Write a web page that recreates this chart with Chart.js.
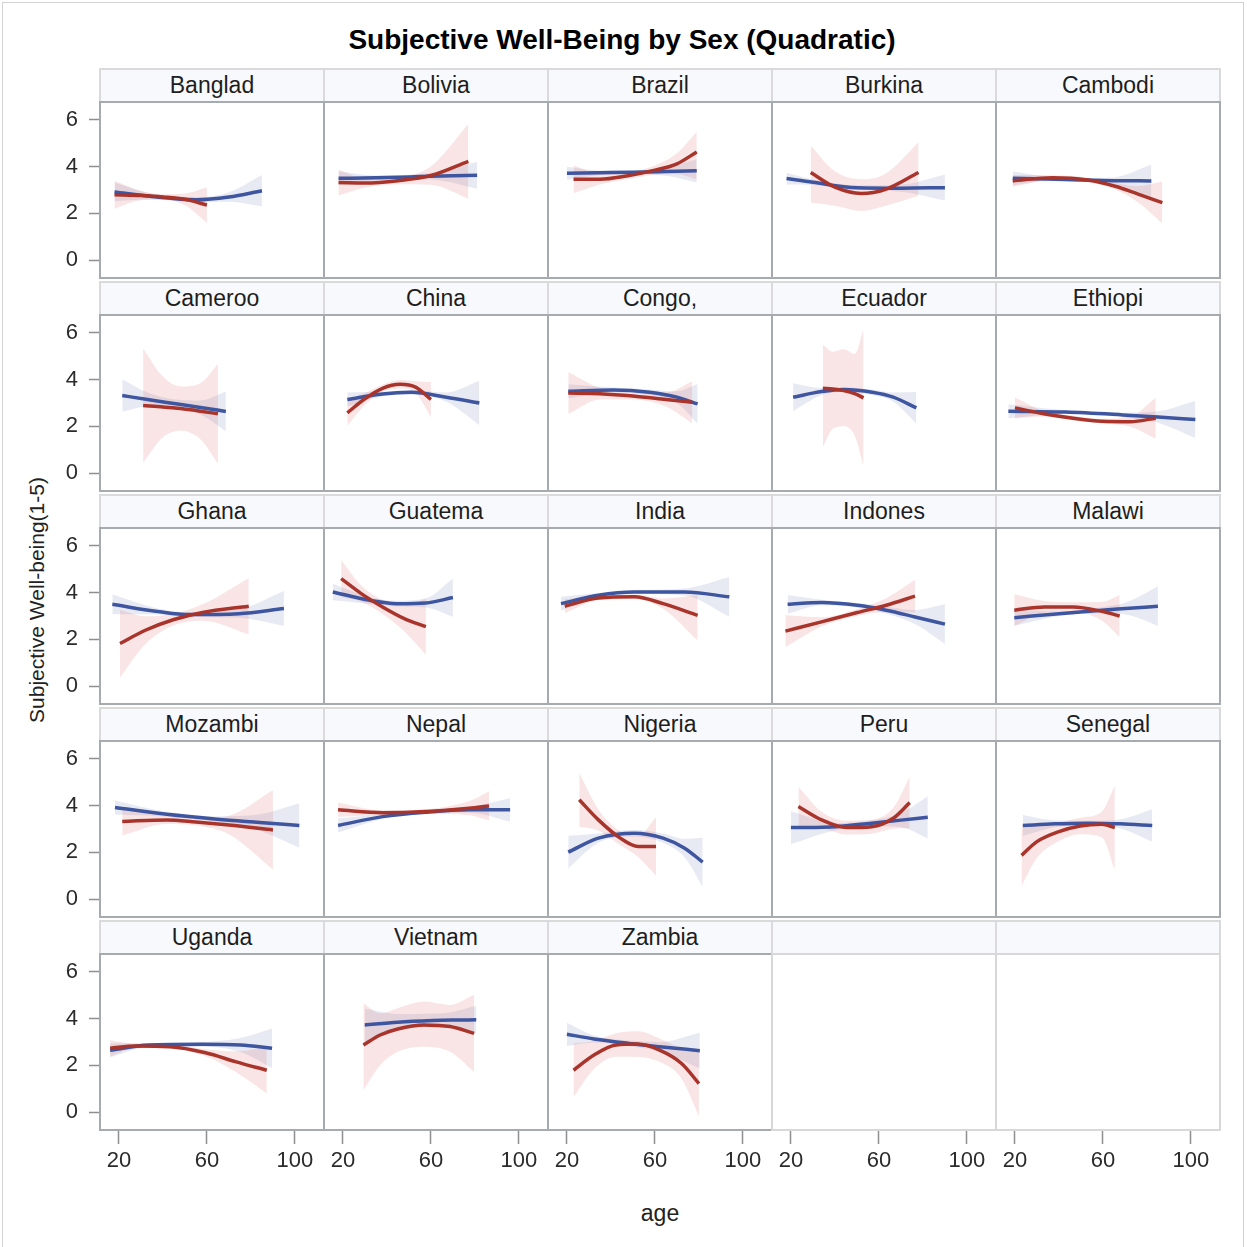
<!DOCTYPE html>
<html>
<head>
<meta charset="utf-8">
<script src="https://cdn.jsdelivr.net/npm/chart.js@4.4.0/dist/chart.umd.min.js"></script>
<style>
  body { margin: 0; background: #fff; font-family: "Liberation Sans", Arial, sans-serif; }
  #wrap { position: relative; width: 1247px; height: 1247px; overflow: hidden; background: #fff; }
  .frame { position: absolute; left: 2px; top: 2px; width: 1242px; height: 1260px; border: 1px solid #d2d2d2; box-sizing: border-box; }
  .title { position: absolute; left: 0; top: 23px; width: 1244px; text-align: center; font-weight: bold; font-size: 28px; line-height: 34px; color: #000; }
  .hdr { position: absolute; box-sizing: border-box; background: #f8f9fd; border: 2px solid #dadada; text-align: center; font-size: 23px; line-height: 30px; color: #1e1e1e; white-space: nowrap; overflow: hidden; }
  .box { position: absolute; box-sizing: border-box; border: 2px solid #a6abb0; z-index: 3; pointer-events: none; }
  .box.empty { border-color: #d8d8d8; }
  canvas { position: absolute; z-index: 2; }
  .ylab { position: absolute; left: -163px; top: 585px; width: 400px; height: 30px; line-height: 30px; text-align: center; font-size: 21px; color: #222; transform: rotate(-90deg); }
  .xlab { position: absolute; left: 0; top: 1198px; width: 1320px; text-align: center; font-size: 23px; line-height: 30px; color: #222; }
</style>
</head>
<body>
<div id="wrap">
  <div class="frame"></div>
  <div class="title">Subjective Well-Being by Sex (Quadratic)</div>
  <div class="ylab">Subjective Well-being(1-5)</div>
  <div class="xlab">age</div>
</div>
<script>
const countries = ["Banglad", "Bolivia", "Brazil", "Burkina", "Cambodi",
  "Cameroo", "China", "Congo,", "Ecuador", "Ethiopi",
  "Ghana", "Guatema", "India", "Indones", "Malawi",
  "Mozambi", "Nepal", "Nigeria", "Peru", "Senegal",
  "Uganda", "Vietnam", "Zambia"];
const xTicks = [20, 60, 100];
const yTicks = [0, 2, 4, 6];

// blue group: fitted curve and confidence band, one row per country
const maleAge = [
  [18, 35, 55, 70, 85], [18, 35, 50, 65, 81], [20, 35, 50, 65, 79], [18, 30, 50, 70, 90], [19, 35, 50, 65, 82],
  [21.5, 33, 45, 57, 68.6], [22, 38, 51, 67, 82], [20.6, 41, 57.6, 70, 79.4], [21, 34, 44, 57, 66.5, 77], [17, 43, 69, 85, 102],
  [17, 38.5, 51.6, 74.5, 95], [15.4, 31.6, 44.6, 57.7, 70], [17.3, 34.3, 50.6, 73.5, 93.8], [18.5, 33.9, 50.2, 63.3, 76.4, 90], [19.7, 40, 59.5, 72, 85],
  [18.2, 41.8, 64.7, 84, 102], [17.8, 38, 57.7, 77.3, 96], [20.6, 34.3, 50.6, 63.7, 73.5, 81.7], [20, 40.4, 56.7, 70, 82.2], [23.6, 38, 53, 68, 82.4],
  [16, 33.5, 57.4, 75.3, 89.6], [29.9, 44.9, 60.8, 70, 80.6], [20, 32.3, 48.2, 62.1, 80.4]
];
const maleFit = [
  [2.92, 2.72, 2.58, 2.70, 2.97], [3.50, 3.52, 3.56, 3.60, 3.63], [3.72, 3.74, 3.76, 3.79, 3.82], [3.49, 3.33, 3.10, 3.08, 3.10], [3.50, 3.47, 3.43, 3.40, 3.39],
  [3.32, 3.15, 2.98, 2.81, 2.64], [3.15, 3.39, 3.46, 3.25, 3.00], [3.50, 3.56, 3.46, 3.25, 2.96], [3.25, 3.49, 3.58, 3.46, 3.25, 2.79], [2.65, 2.61, 2.49, 2.40, 2.29],
  [3.50, 3.18, 3.06, 3.10, 3.32], [4.03, 3.68, 3.53, 3.56, 3.79], [3.53, 3.89, 4.03, 4.03, 3.82], [3.50, 3.58, 3.46, 3.25, 2.96, 2.65], [2.93, 3.10, 3.25, 3.33, 3.42],
  [3.92, 3.63, 3.42, 3.28, 3.15], [3.15, 3.53, 3.72, 3.82, 3.82], [2.01, 2.61, 2.82, 2.61, 2.18, 1.58], [3.06, 3.10, 3.25, 3.38, 3.50], [3.15, 3.22, 3.25, 3.22, 3.15],
  [2.65, 2.87, 2.90, 2.87, 2.73], [3.73, 3.85, 3.92, 3.94, 3.95], [3.33, 3.13, 2.94, 2.80, 2.63]
];
const maleLo = [
  [2.52, 2.60, 2.48, 2.50, 2.30], [3.20, 3.42, 3.47, 3.40, 3.05], [3.44, 3.64, 3.68, 3.61, 3.32], [3.24, 3.21, 3.00, 2.93, 2.55], [3.20, 3.37, 3.35, 3.26, 2.69],
  [2.62, 2.85, 2.80, 2.51, 1.79], [2.85, 3.29, 3.36, 3.05, 2.05], [3.20, 3.46, 3.34, 3.00, 2.11], [2.65, 3.34, 3.48, 3.34, 3.05, 2.11], [2.35, 2.53, 2.39, 2.15, 1.49],
  [3.07, 3.06, 2.96, 2.92, 2.57], [3.68, 3.53, 3.41, 3.36, 2.97], [3.23, 3.79, 3.95, 3.88, 2.97], [3.10, 3.46, 3.36, 3.10, 2.66, 1.80], [2.58, 3.00, 3.13, 3.03, 2.57],
  [3.62, 3.53, 3.30, 2.93, 2.20], [2.85, 3.43, 3.64, 3.70, 3.32], [1.31, 2.41, 2.67, 2.41, 1.78, 0.53], [2.36, 2.95, 3.13, 3.08, 2.60], [2.70, 3.07, 3.15, 3.02, 2.45],
  [2.35, 2.79, 2.80, 2.57, 1.88], [3.03, 3.50, 3.62, 3.59, 3.35], [2.83, 2.98, 2.82, 2.60, 1.86]
];
const maleHi = [
  [3.32, 2.84, 2.68, 2.90, 3.64], [3.80, 3.62, 3.65, 3.80, 4.21], [4.00, 3.84, 3.84, 3.97, 4.32], [3.74, 3.45, 3.20, 3.23, 3.65], [3.80, 3.57, 3.51, 3.54, 4.09],
  [4.02, 3.45, 3.16, 3.11, 3.49], [3.45, 3.49, 3.56, 3.45, 3.95], [3.80, 3.66, 3.58, 3.50, 3.81], [3.85, 3.64, 3.68, 3.58, 3.45, 3.47], [2.95, 2.69, 2.59, 2.65, 3.09],
  [3.93, 3.30, 3.16, 3.28, 4.07], [4.38, 3.83, 3.65, 3.76, 4.61], [3.83, 3.99, 4.11, 4.18, 4.67], [3.90, 3.70, 3.56, 3.40, 3.26, 3.50], [3.28, 3.20, 3.37, 3.63, 4.27],
  [4.22, 3.73, 3.54, 3.63, 4.10], [3.45, 3.63, 3.80, 3.94, 4.32], [2.71, 2.81, 2.97, 2.81, 2.58, 2.63], [3.76, 3.25, 3.37, 3.68, 4.40], [3.60, 3.37, 3.35, 3.42, 3.85],
  [2.95, 2.95, 3.00, 3.17, 3.58], [4.43, 4.20, 4.22, 4.29, 4.55], [3.83, 3.28, 3.06, 3.00, 3.40]
];

// red group
const femaleAge = [
  [18, 30, 40, 50, 60], [18, 30, 45, 60, 77], [23, 35, 47, 60, 70, 79], [29, 40, 52, 63, 78], [19, 37, 53, 66, 76, 87],
  [31, 40, 48, 57, 65], [22, 30, 38, 46, 53, 60], [20.6, 35, 50, 65, 77], [34.5, 39, 44, 49, 53], [20, 33, 46.5, 59.5, 72.5, 84],
  [20.5, 32, 45, 58, 79], [19.2, 28.3, 38, 47.9, 57.7], [19, 34.3, 50.6, 63.7, 79.4], [17.5, 33.9, 50.2, 63.3, 76.4], [19.7, 33.4, 46.5, 59.5, 67.6],
  [21.5, 41.8, 55, 70, 90], [17.8, 38, 57.7, 77.3, 86.4], [25.6, 34.3, 44.2, 52.3, 60.5], [23.4, 33.9, 45.3, 56.7, 66.5, 74], [23, 30, 40, 49.7, 59.5, 65.4],
  [16, 27.6, 43.5, 59.4, 73.3, 87.2], [29.3, 36.9, 44.9, 56.8, 68.7, 79.6], [23, 32.3, 42.3, 52.2, 62.1, 72.1, 80]
];
const femaleFit = [
  [2.80, 2.76, 2.70, 2.60, 2.36], [3.32, 3.30, 3.40, 3.62, 4.23], [3.46, 3.46, 3.60, 3.85, 4.12, 4.63], [3.75, 3.12, 2.85, 3.03, 3.75], [3.39, 3.53, 3.43, 3.15, 2.82, 2.46],
  [2.89, 2.83, 2.76, 2.65, 2.54], [2.58, 3.18, 3.63, 3.80, 3.68, 3.15], [3.43, 3.40, 3.30, 3.15, 3.03], [3.63, 3.60, 3.53, 3.40, 3.22], [2.79, 2.54, 2.35, 2.22, 2.20, 2.35],
  [1.82, 2.39, 2.85, 3.15, 3.42], [4.60, 3.96, 3.39, 2.89, 2.54], [3.42, 3.77, 3.82, 3.53, 3.03], [2.35, 2.75, 3.15, 3.46, 3.85], [3.25, 3.39, 3.39, 3.20, 3.00],
  [3.32, 3.39, 3.30, 3.17, 2.96], [3.82, 3.70, 3.75, 3.89, 3.99], [4.25, 3.39, 2.61, 2.25, 2.25], [3.96, 3.39, 3.06, 3.10, 3.46, 4.13], [1.87, 2.46, 2.89, 3.13, 3.20, 3.06],
  [2.73, 2.83, 2.80, 2.54, 2.15, 1.79], [2.87, 3.30, 3.56, 3.73, 3.66, 3.37], [1.79, 2.44, 2.87, 2.91, 2.65, 2.08, 1.22]
];
const femaleLo = [
  [2.20, 2.56, 2.58, 2.35, 1.60], [2.77, 3.10, 3.25, 3.22, 2.63], [2.86, 3.24, 3.45, 3.65, 3.67, 3.45], [2.46, 2.32, 2.10, 2.32, 2.75], [3.14, 3.43, 3.33, 3.00, 2.47, 1.56],
  [0.44, 1.53, 1.81, 1.45, 0.41], [2.03, 2.93, 3.48, 3.62, 3.43, 2.40], [2.53, 3.15, 3.15, 2.85, 2.13], [1.10, 1.90, 2.00, 1.60, 0.30], [2.34, 2.42, 2.25, 2.12, 1.98, 1.47],
  [0.37, 1.79, 2.60, 2.80, 2.22], [3.80, 3.61, 3.09, 2.34, 1.34], [3.12, 3.67, 3.72, 3.31, 1.95], [1.67, 2.55, 3.00, 3.16, 3.15], [2.57, 3.14, 3.19, 2.80, 2.10],
  [2.72, 3.21, 3.15, 2.77, 1.26], [3.52, 3.60, 3.65, 3.59, 3.37], [3.10, 2.94, 2.31, 1.80, 1.00], [3.11, 3.04, 2.76, 2.80, 3.01, 3.03], [0.57, 1.76, 2.49, 2.78, 2.65, 1.26],
  [2.38, 2.73, 2.70, 2.39, 1.70, 0.79], [0.93, 2.00, 2.58, 2.80, 2.58, 1.72], [0.64, 1.84, 2.37, 2.36, 2.15, 1.43, -0.18]
];
const femaleHi = [
  [3.40, 2.96, 2.82, 2.85, 3.12], [3.87, 3.50, 3.55, 4.02, 5.83], [4.06, 3.68, 3.75, 4.05, 4.57, 5.50], [4.90, 3.80, 3.46, 3.70, 5.05], [3.64, 3.63, 3.53, 3.30, 3.17, 3.36],
  [5.34, 4.13, 3.71, 3.85, 4.67], [3.13, 3.43, 3.78, 3.98, 3.93, 3.90], [4.33, 3.65, 3.45, 3.45, 3.93], [5.50, 5.20, 5.30, 5.10, 6.15], [3.24, 2.66, 2.45, 2.32, 2.42, 3.23],
  [3.27, 2.99, 3.10, 3.50, 4.62], [5.40, 4.31, 3.69, 3.44, 3.74], [3.72, 3.87, 3.92, 3.75, 3.90], [3.03, 2.95, 3.30, 3.76, 4.55], [3.93, 3.64, 3.59, 3.60, 3.90],
  [3.92, 3.57, 3.45, 3.57, 4.66], [4.12, 3.80, 3.85, 4.19, 4.61], [5.40, 3.84, 2.91, 2.70, 3.50], [4.81, 3.74, 3.36, 3.40, 3.91, 5.23], [3.17, 3.16, 3.29, 3.48, 3.75, 4.86],
  [3.08, 2.93, 2.90, 2.69, 2.60, 2.79], [4.66, 4.23, 4.45, 4.73, 4.59, 5.02], [2.94, 3.04, 3.37, 3.46, 3.15, 2.73, 2.62]
];

const blue = "#3e55a0", blueFade = "rgba(62,85,160,0.12)",
  red = "#a8342b", redFade = "rgba(214,70,70,0.14)",
  tickGray = "#8f8f8f", txt = "#2b2b2b";
const font = { family: '"Liberation Sans", Arial, sans-serif', size: 22 };

// grid geometry
const PW = 224, PH = 176, HH = 34, PITCH = 213, X0 = 100, Y0 = 68;
const AXW = 60, AXH = 52;

const wrap = document.getElementById("wrap");

function pts(ax, ys) {
  return ax.map((a, i) => ({ x: a, y: ys[i] }));
}

function addDiv(cls, l, t, w, h, text) {
  const d = document.createElement("div");
  d.className = cls;
  Object.assign(d.style, { left: l + "px", top: t + "px", width: w + "px", height: h + "px" });
  if (text) d.textContent = text;
  wrap.appendChild(d);
}

for (let i = 0; i < 25; i++) {
  const r = Math.floor(i / 5), c = i % 5;
  const hasData = i < countries.length;
  const showX = r === 4, showY = c === 0;
  const left = X0 + c * PW, top = Y0 + r * PITCH;

  addDiv("hdr", left - 1, top, PW + 2, HH + 1, hasData ? countries[i] : "");
  addDiv("box" + (hasData ? "" : " empty"), left - 1, top + HH - 1, PW + 2, PH + 2);

  const cv = document.createElement("canvas");
  const cw = PW + (showY ? AXW : 0), ch = PH + (showX ? AXH : 0);
  cv.width = cw; cv.height = ch;
  cv.style.left = (left - (showY ? AXW : 0)) + "px";
  cv.style.top = (top + HH) + "px";
  wrap.appendChild(cv);

  const datasets = [];
  if (hasData) {
    const band = { borderWidth: 0, pointRadius: 0, cubicInterpolationMode: "monotone" };
    const line = { pointRadius: 0, borderWidth: 3.5, fill: false, cubicInterpolationMode: "monotone" };
    datasets.push(
      { ...band, label: "m-lo", data: pts(maleAge[i], maleLo[i]), fill: false, order: 6 },
      { ...band, label: "m-hi", data: pts(maleAge[i], maleHi[i]), fill: "-1", backgroundColor: blueFade, order: 5 },
      { ...band, label: "f-lo", data: pts(femaleAge[i], femaleLo[i]), fill: false, order: 4 },
      { ...band, label: "f-hi", data: pts(femaleAge[i], femaleHi[i]), fill: "-1", backgroundColor: redFade, order: 3 },
      { ...line, label: "Male", data: pts(maleAge[i], maleFit[i]), borderColor: blue, order: 2 },
      { ...line, label: "Female", data: pts(femaleAge[i], femaleFit[i]), borderColor: red, order: 1 }
    );
  }

  new Chart(cv, {
    type: "line",
    data: { datasets },
    options: {
      responsive: false,
      animation: false,
      layout: { padding: 0 },
      plugins: { legend: { display: false }, tooltip: { enabled: false } },
      scales: {
        x: {
          type: "linear",
          min: 11.4,
          max: 113.2,
          display: showX,
          afterBuildTicks: (s) => { s.ticks = xTicks.map((v) => ({ value: v })); },
          afterFit: (s) => {
            s.height = showX ? AXH : 0;
            s.paddingLeft = 0; s.paddingRight = 0;
          },
          border: { display: false },
          grid: { drawOnChartArea: false, drawTicks: true, tickLength: 14, tickColor: tickGray, tickWidth: 1.5 },
          ticks: { font, color: txt, padding: 4, maxRotation: 0, autoSkip: false },
        },
        y: {
          type: "linear",
          min: -0.77,
          max: 6.77,
          display: showY,
          afterBuildTicks: (s) => { s.ticks = yTicks.map((v) => ({ value: v })); },
          afterFit: (s) => {
            s.width = showY ? AXW : 0;
            s.paddingTop = 0; s.paddingBottom = 0;
          },
          border: { display: false },
          grid: { drawOnChartArea: false, drawTicks: true, tickLength: 11, tickColor: tickGray, tickWidth: 1.5 },
          ticks: { font, color: txt, padding: 11, autoSkip: false },
        },
      },
    },
  });
}
</script>
</body>
</html>
